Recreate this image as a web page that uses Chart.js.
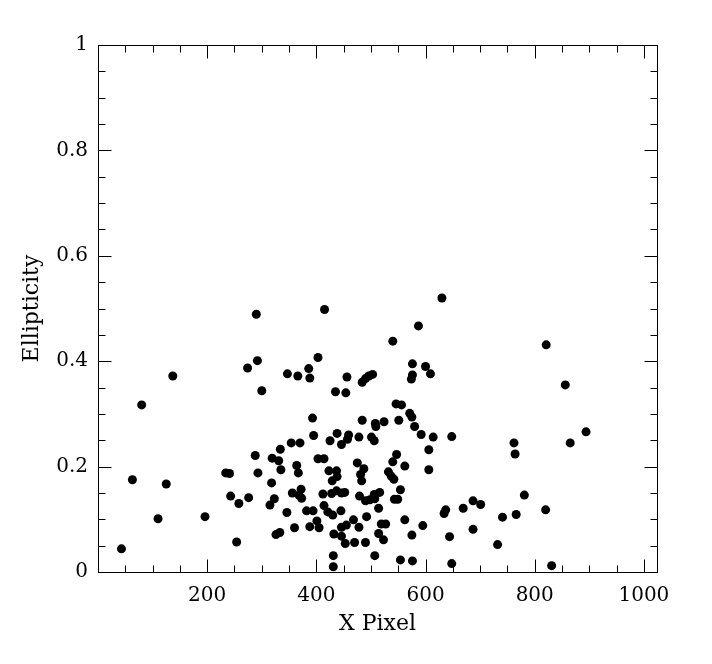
<!DOCTYPE html>
<html>
<head>
<meta charset="utf-8">
<title>Ellipticity vs X Pixel</title>
<script src="https://cdn.jsdelivr.net/npm/chart.js@4"></script>
<style>
  html, body { margin: 0; padding: 0; background: #fff; }
  canvas { display: block; }
</style>
</head>
<body>
<canvas id="chart" width="712" height="664"></canvas>
<script>
// data
const xPixel = [
  290, 292, 274, 300, 347, 366, 137, 80, 63, 125,
  110, 196, 43, 254, 234, 241, 293, 288, 334, 319,
  331, 335, 354, 370, 318, 243, 276, 258, 315, 323,
  346, 356, 368, 364, 367, 326, 333, 360, 415, 630,
  587, 540, 403, 386, 388, 456, 435, 454, 484, 490,
  496, 503, 576, 576, 574, 600, 609, 546, 556, 571,
  575, 580, 551, 592, 614, 648, 393, 395, 484, 508,
  509, 524, 438, 425, 446, 459, 457, 478, 501, 506,
  403, 414, 547, 540, 562, 606, 606, 423, 437, 438,
  429, 475, 481, 487, 483, 532, 537, 542, 372, 373,
  412, 428, 437, 446, 452, 479, 490, 498, 506, 516,
  507, 514, 543, 549, 554, 382, 394, 414, 421, 430,
  445, 401, 388, 405, 468, 492, 446, 455, 478, 519,
  527, 562, 595, 634, 637, 669, 687, 687, 644, 575,
  514, 523, 432, 446, 453, 470, 490, 431, 431, 507,
  554, 576, 648, 821, 856, 894, 762, 764, 865, 781,
  701, 820, 766, 741, 732, 831
];
const ellipticity = [
  0.489, 0.401, 0.387, 0.344, 0.376, 0.372, 0.372, 0.317, 0.175, 0.167,
  0.101, 0.105, 0.044, 0.057, 0.188, 0.187, 0.188, 0.221, 0.233, 0.216,
  0.211, 0.194, 0.245, 0.245, 0.169, 0.144, 0.141, 0.130, 0.127, 0.139,
  0.113, 0.150, 0.146, 0.202, 0.188, 0.071, 0.075, 0.084, 0.498, 0.520,
  0.467, 0.438, 0.407, 0.386, 0.368, 0.370, 0.342, 0.340, 0.360, 0.367,
  0.372, 0.375, 0.395, 0.374, 0.366, 0.390, 0.376, 0.319, 0.317, 0.301,
  0.294, 0.276, 0.288, 0.261, 0.256, 0.257, 0.292, 0.259, 0.288, 0.282,
  0.276, 0.285, 0.263, 0.249, 0.242, 0.260, 0.252, 0.256, 0.256, 0.249,
  0.215, 0.215, 0.223, 0.209, 0.201, 0.232, 0.194, 0.192, 0.192, 0.181,
  0.173, 0.207, 0.185, 0.196, 0.173, 0.190, 0.182, 0.176, 0.157, 0.140,
  0.148, 0.149, 0.154, 0.150, 0.151, 0.144, 0.135, 0.137, 0.147, 0.151,
  0.139, 0.121, 0.138, 0.138, 0.156, 0.116, 0.116, 0.126, 0.114, 0.108,
  0.116, 0.097, 0.086, 0.084, 0.099, 0.105, 0.085, 0.089, 0.085, 0.091,
  0.091, 0.099, 0.088, 0.111, 0.118, 0.121, 0.135, 0.081, 0.067, 0.070,
  0.073, 0.061, 0.072, 0.068, 0.054, 0.056, 0.056, 0.031, 0.010, 0.031,
  0.023, 0.021, 0.016, 0.431, 0.355, 0.266, 0.245, 0.224, 0.245, 0.146,
  0.128, 0.118, 0.109, 0.104, 0.052, 0.012
];

const xMajorTicks = [200, 400, 600, 800, 1000];
const xMinorStep = 50;
const yMajorTicks = [0, 0.2, 0.4, 0.6, 0.8, 1];
const yTickLabels = ['0', '0.2', '0.4', '0.6', '0.8', '1'];
const yMinorStep = 0.05;
const xRange = [0, 1024];
const yRange = [0, 1];

const points = xPixel.map((x, i) => ({ x: x, y: ellipticity[i] }));

const FONT = '20px "DejaVu Serif", "Liberation Serif", serif';
const TITLE_FONT = '22px "DejaVu Serif", "Liberation Serif", serif';

// frame, inward ticks on all four sides, tick labels and axis titles
const framePlugin = {
  id: 'frame',
  afterDraw(chart) {
    const ctx = chart.ctx;
    const a = chart.chartArea;
    const xs = chart.scales.x;
    const ys = chart.scales.y;
    const L = Math.round(a.left) + 0.5, R = Math.round(a.right) + 0.5;
    const T = Math.round(a.top) + 0.5, B = Math.round(a.bottom) + 0.5;
    const major = 13, minor = 7;

    ctx.save();
    ctx.strokeStyle = '#000';
    ctx.lineWidth = 1;
    ctx.strokeRect(L, T, R - L, B - T);

    ctx.beginPath();
    for (let v = xMinorStep; v <= xRange[1]; v += xMinorStep) {
      const isMajor = v % 200 === 0;
      const len = isMajor ? major : minor;
      const px = Math.round(xs.getPixelForValue(v)) + 0.5;
      ctx.moveTo(px, B); ctx.lineTo(px, B - len);
      ctx.moveTo(px, T); ctx.lineTo(px, T + len);
    }
    for (let k = 1; k < Math.round(yRange[1] / yMinorStep); k++) {
      const v = k * yMinorStep;
      const isMajor = k % 4 === 0;
      const len = isMajor ? major : minor;
      const py = Math.round(ys.getPixelForValue(v)) + 0.5;
      ctx.moveTo(L, py); ctx.lineTo(L + len, py);
      ctx.moveTo(R, py); ctx.lineTo(R - len, py);
    }
    ctx.stroke();

    ctx.fillStyle = '#000';
    ctx.font = FONT;
    ctx.textAlign = 'center';
    ctx.textBaseline = 'middle';
    xMajorTicks.forEach(v => {
      ctx.fillText(String(v), xs.getPixelForValue(v), 596);
    });
    ctx.textAlign = 'right';
    yMajorTicks.forEach((v, i) => {
      ctx.fillText(yTickLabels[i], a.left - 10, ys.getPixelForValue(v));
    });

    ctx.font = TITLE_FONT;
    ctx.textAlign = 'center';
    ctx.fillText('X Pixel', (a.left + a.right) / 2, 624);
    ctx.translate(32, (a.top + a.bottom) / 2);
    ctx.rotate(-Math.PI / 2);
    ctx.fillText('Ellipticity', 0, 0);
    ctx.restore();
  }
};

new Chart(document.getElementById('chart'), {
  type: 'scatter',
  data: {
    datasets: [{
      data: points,
      backgroundColor: '#000',
      borderColor: '#000',
      borderWidth: 0,
      pointRadius: 4.5,
      pointHoverRadius: 4.5,
      clip: false
    }]
  },
  options: {
    responsive: false,
    animation: false,
    events: [],
    layout: { padding: { left: 98, right: 55, top: 45, bottom: 92 } },
    plugins: {
      legend: { display: false },
      tooltip: { enabled: false }
    },
    scales: {
      x: { type: 'linear', min: xRange[0], max: xRange[1], display: false },
      y: { type: 'linear', min: yRange[0], max: yRange[1], display: false }
    }
  },
  plugins: [framePlugin]
});
</script>
</body>
</html>
